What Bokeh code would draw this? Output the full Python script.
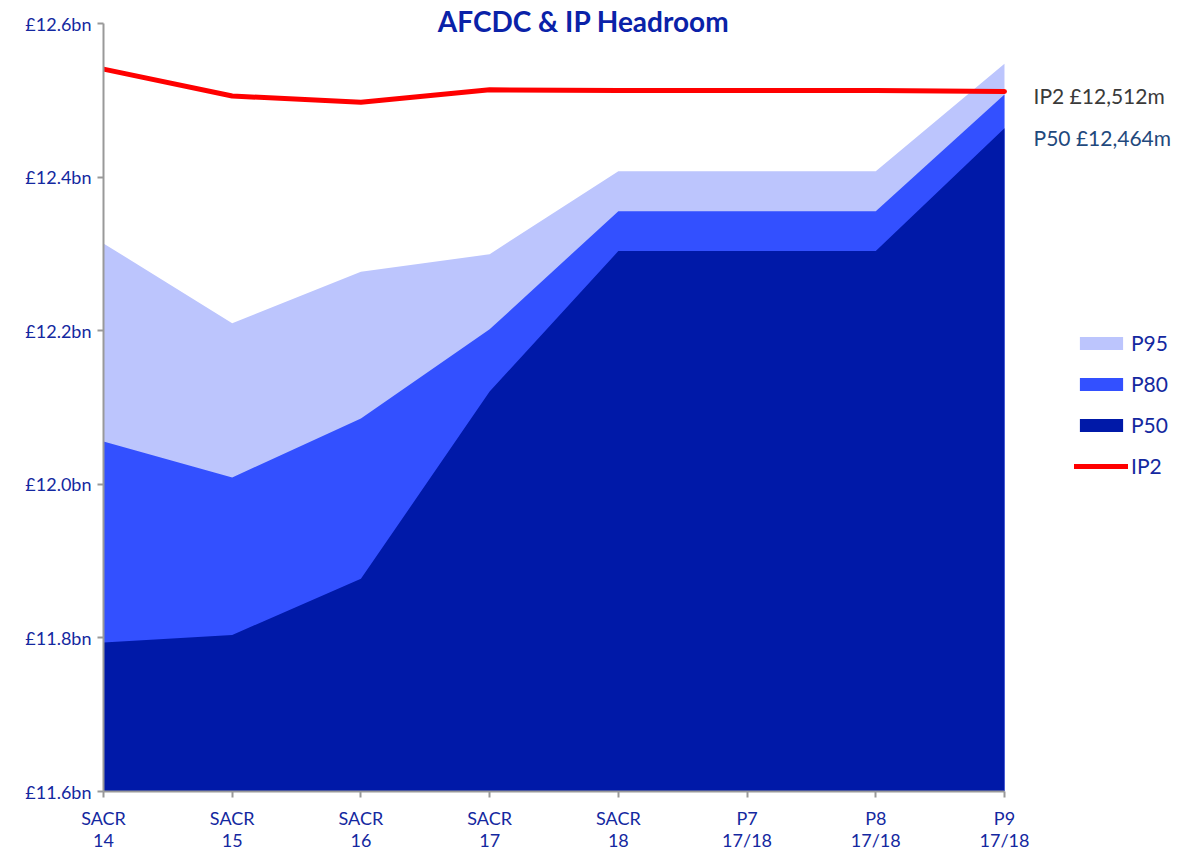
from bokeh.plotting import figure
from bokeh.models import Legend, LegendItem, Label, FixedTicker, Range1d
from bokeh.embed import file_html
from bokeh.resources import INLINE

categories = ["SACR\n14", "SACR\n15", "SACR\n16", "SACR\n17", "SACR\n18", "P7\n17/18", "P8\n17/18", "P9\n17/18"]
p50 = [11.794, 11.804, 11.877, 12.121, 12.304, 12.304, 12.304, 12.464]
p80 = [12.056, 12.009, 12.086, 12.202, 12.356, 12.356, 12.356, 12.508]
p95 = [12.314, 12.210, 12.277, 12.300, 12.408, 12.408, 12.408, 12.548]
ip2 = [12.541, 12.506, 12.498, 12.514, 12.513, 12.513, 12.513, 12.512]
y_ticks = [11.6, 11.8, 12.0, 12.2, 12.4, 12.6]
y_tick_labels = ["£11.6bn", "£11.8bn", "£12.0bn", "£12.2bn", "£12.4bn", "£12.6bn"]
title_text = "AFCDC & IP Headroom"
ip2_label = "IP2 £12,512m"
p50_label = "P50 £12,464m"

x = list(range(len(categories)))
y_start, y_end = y_ticks[0], y_ticks[-1]

FONT = "Lato"
TICK_COLOR = "#1428a0"

# frame extends past the last category / top tick so side texts are not clipped
x_extra = 1.352
y_extra = 0.0304

p = figure(width=1178, height=853, output_backend="svg", toolbar_location=None,
           x_range=Range1d(0, len(categories) - 1 + x_extra), y_range=Range1d(y_start, y_end + y_extra),
           min_border_left=103, min_border_right=0, min_border_top=0, min_border_bottom=59)
p.outline_line_color = None
p.xgrid.visible = False
p.ygrid.visible = False

r95 = p.varea(x=x, y1=[y_start] * len(x), y2=p95, fill_color="#bcc5fd")
r80 = p.varea(x=x, y1=[y_start] * len(x), y2=p80, fill_color="#3350ff")
r50 = p.varea(x=x, y1=[y_start] * len(x), y2=p50, fill_color="#0019a8")
rip = p.line(x=x, y=ip2, line_color="#ff0000", line_width=5, line_cap="round")

for ax in (p.xaxis[0], p.yaxis[0]):
    ax.axis_line_color = "#999999"
    ax.axis_line_width = 2
    ax.major_tick_line_color = "#999999"
    ax.major_tick_line_width = 2
    ax.major_tick_out = 6
    ax.major_tick_in = 0
    ax.minor_tick_line_color = None
    ax.major_label_text_font = FONT
    ax.major_label_text_color = TICK_COLOR
    ax.major_label_text_font_size = "18px"

p.xaxis.bounds = (0, len(categories) - 1)
p.yaxis.bounds = (y_start, y_end)
p.xaxis.ticker = FixedTicker(ticks=x)
p.xaxis.major_label_overrides = {i: c for i, c in enumerate(categories)}
p.xaxis.major_label_standoff = 9
p.xaxis.major_label_text_line_height = 1.0
p.yaxis.ticker = FixedTicker(ticks=y_ticks)
p.yaxis.major_label_overrides = {t: l for t, l in zip(y_ticks, y_tick_labels)}
p.yaxis.major_label_standoff = 6

legend = Legend(items=[
    LegendItem(label="P95", renderers=[r95]),
    LegendItem(label="P80", renderers=[r80]),
    LegendItem(label="P50", renderers=[r50]),
    LegendItem(label="IP2", renderers=[rip]),
], location=(971, 313))
legend.background_fill_alpha = 0
legend.border_line_color = None
legend.glyph_width = 54
legend.glyph_height = 16
legend.label_text_font = FONT
legend.label_text_font_size = "21px"
legend.label_text_color = TICK_COLOR
legend.label_standoff = 3
legend.spacing = 16
legend.padding = 0
legend.margin = 0
p.add_layout(legend, "center")

p.add_layout(Label(x=3.73, y=12.6035, text=title_text, text_align="center", text_baseline="middle",
                   text_font=FONT, text_font_style="bold", text_font_size="28px", text_color="#0a22a8"))
p.add_layout(Label(x=7.226, y=12.506, text=ip2_label, text_align="left", text_baseline="middle",
                   text_font=FONT, text_font_size="21px", text_color="#3a3a3a"))
p.add_layout(Label(x=7.226, y=12.452, text=p50_label, text_align="left", text_baseline="middle",
                   text_font=FONT, text_font_size="21px", text_color="#1f497d"))

open("out.html", "w").write(file_html(p, INLINE))
